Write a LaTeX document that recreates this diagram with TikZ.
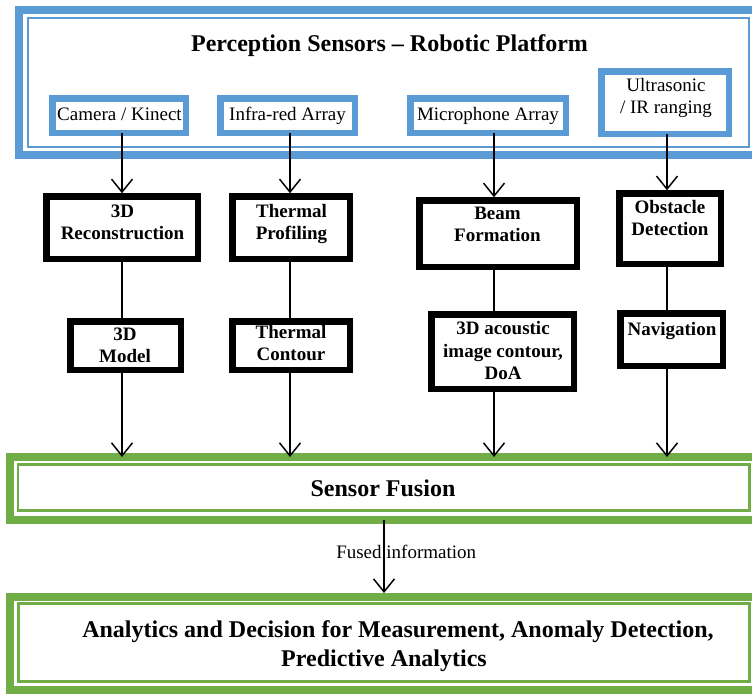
\documentclass[tikz,border=0pt]{standalone}
\usepackage{fontspec}
\setmainfont{Liberation Serif}
\usetikzlibrary{arrows.meta}
\definecolor{sblue}{HTML}{5B9BD5}
\definecolor{sgreen}{HTML}{70AD47}
\begin{document}
\begin{tikzpicture}[x=1pt,y=-1pt,
  box/.style={draw, rectangle, inner sep=0pt, outer sep=0pt},
  bluebox/.style={box, draw=sblue, line width=6.5pt},
  blackbox/.style={box, draw=black, line width=6.5pt},
  frameout/.style={box, line width=8pt},
  framein/.style={box, line width=2.5pt},
  sensortxt/.style={font=\fontsize{19}{22.3}\selectfont, align=center, inner sep=0pt},
  proctxt/.style={font=\fontsize{19}{22.2}\selectfont\bfseries, align=center, inner sep=0pt},
  titletxt/.style={font=\fontsize{24}{28.4}\selectfont\bfseries, align=center, inner sep=0pt},
  arr/.style={line width=1.5pt, -{Straight Barb[length=13pt,width=21pt]}},
  link/.style={line width=1.5pt}]
\clip (0,0) rectangle (752,694);
\fill[white] (0,0) rectangle (752,694);

% containers
\node[frameout, draw=sblue, minimum width=747pt, minimum height=144.7pt] (top) at (392.5,82.35) {};
\node[framein, draw=sblue, line width=2pt, minimum width=721.3pt, minimum height=128.4pt] (topin) at (388.35,82.5) {};
\node[titletxt, anchor=base] (title) at (389.5,51) {Perception Sensors -- Robotic Platform};

\node[frameout, draw=sgreen, minimum width=756pt, minimum height=62.5pt] (fusion) at (388,488.25) {};
\node[framein, draw=sgreen, minimum width=731.5pt, minimum height=46pt] (fusionin) at (383.75,487.5) {};
\node[titletxt, anchor=base] (fusiontxt) at (383,496.7) {Sensor Fusion};

\node[frameout, draw=sgreen, minimum width=756pt, minimum height=92.7pt] (anal) at (388,643.35) {};
\node[framein, draw=sgreen, minimum width=730.8pt, minimum height=78pt] (analin) at (384.1,642.5) {};
\node[titletxt] (analtxt) at (391,646) {\hspace*{14pt}Analytics and Decision for Measurement, Anomaly Detection,\\Predictive Analytics\hspace*{14pt}\mbox{}};

% sensor boxes
\node[bluebox, minimum width=133.5pt, minimum height=34.5pt] (cam) at (119,115.5) {};
\node[bluebox, minimum width=134.5pt, minimum height=34.5pt] (ir) at (287.5,115.5) {};
\node[bluebox, minimum width=155.5pt, minimum height=34.5pt] (mic) at (488,115.5) {};
\node[bluebox, minimum width=127.5pt, minimum height=62.5pt] (ultra) at (665,102.5) {};
\node[sensortxt, anchor=base] (camtxt) at (119.5,120) {Camera / Kinect};
\node[sensortxt, anchor=base] (irtxt) at (287.5,120) {Infra-red Array};
\node[sensortxt, anchor=base] (mictxt) at (488,120) {Microphone Array};
\node[sensortxt] (ultratxt) at (666,97.7) {Ultrasonic\\/ IR ranging};

% processing boxes
\node[blackbox, minimum width=151.5pt, minimum height=62.5pt] (rec) at (122,227.5) {};
\node[blackbox, minimum width=117.5pt, minimum height=62.5pt] (tprof) at (291,227.5) {};
\node[blackbox, minimum width=110.5pt, minimum height=48.5pt] (model) at (125.5,345.5) {};
\node[blackbox, minimum width=117.5pt, minimum height=48.5pt] (tcont) at (291,345.5) {};
\node[blackbox, minimum width=157.5pt, minimum height=66.5pt] (beam) at (498,233.5) {};
\node[blackbox, minimum width=101.5pt, minimum height=70.5pt] (obst) at (670,228.5) {};
\node[blackbox, minimum width=142.5pt, minimum height=74.5pt] (acou) at (502.5,351.5) {};
\node[blackbox, minimum width=102.5pt, minimum height=52.5pt] (nav) at (671.5,339.5) {};

\node[proctxt] (rectxt) at (122.5,222) {3D\\Reconstruction};
\node[proctxt] (tproftxt) at (291.5,224) {Thermal\\Profiling};
\node[proctxt] (modeltxt) at (125,345.3) {3D\\Model};
\node[proctxt] (tconttxt) at (291,343.2) {Thermal\\Contour};
\node[proctxt] (beamtxt) at (497.5,224.5) {Beam\\Formation};
\node[proctxt] (obsttxt) at (670,217.7) {Obstacle\\Detection};
\node[proctxt] (acoutxt) at (503,350.5) {3D acoustic\\image contour,\\DoA};
\node[proctxt] (navtxt) at (672,330.5) {Navigation};

% columns
\coordinate (c1) at (122,0);
\coordinate (c2) at (290,0);
\coordinate (c3) at (494,0);
\coordinate (c4) at (667,0);
\coordinate (cf) at (384,0);

\draw[arr, shorten >=3pt] (cam.south -| c1) -- (rec.north -| c1);
\draw[link] (rec.south -| c1) -- (model.north -| c1);
\draw[arr] (model.south -| c1) -- (fusion.north -| c1);

\draw[arr, shorten >=3pt] (ir.south -| c2) -- (tprof.north -| c2);
\draw[link] (tprof.south -| c2) -- (tcont.north -| c2);
\draw[arr] (tcont.south -| c2) -- (fusion.north -| c2);

\draw[arr, shorten >=3pt] (mic.south -| c3) -- (beam.north -| c3);
\draw[link] (beam.south -| c3) -- (acou.north -| c3);
\draw[arr] (acou.south -| c3) -- (fusion.north -| c3);

\draw[arr, shorten >=3pt] (ultra.south -| c4) -- (obst.north -| c4);
\draw[link] (obst.south -| c4) -- (nav.north -| c4);
\draw[arr] (nav.south -| c4) -- (fusion.north -| c4);

\draw[arr, shorten >=4pt] (fusion.south -| cf) -- (anal.north -| cf);
\node[sensortxt, anchor=base] (fusedlbl) at (406.2,558.3) {Fused information};
\end{tikzpicture}
\end{document}
